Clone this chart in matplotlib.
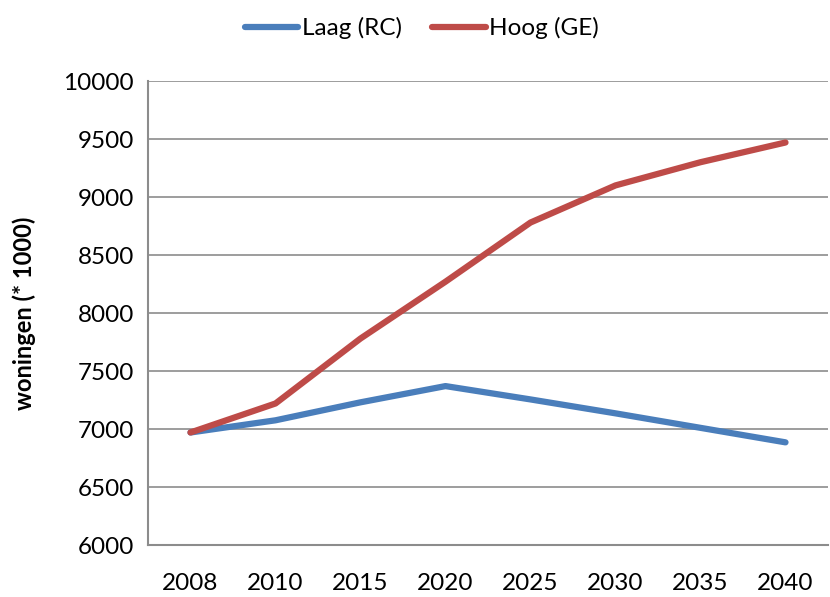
import matplotlib
matplotlib.use("Agg")
import matplotlib.pyplot as plt

years = ["2008", "2010", "2015", "2020", "2025", "2030", "2035", "2040"]
laag = [6970, 7075, 7230, 7370, 7255, 7135, 7010, 6885]
hoog = [6970, 7220, 7780, 8270, 8780, 9100, 9300, 9470]

plt.rcParams['font.family'] = ['Lato', 'DejaVu Sans']

fig = plt.figure(figsize=(8.3, 5.97), dpi=100)
ax = fig.add_axes([0.1783, 0.0871, 0.8193, 0.7772])

x = list(range(len(years)))
ax.plot(x, laag, color='#4a7ebb', lw=4.5, solid_capstyle='round', label='Laag (RC)', zorder=3)
ax.plot(x, hoog, color='#be4b48', lw=4.5, solid_capstyle='round', label='Hoog (GE)', zorder=3)

ax.set_xlim(-0.5, len(years) - 0.5)
ax.set_ylim(6000, 10000)
ax.set_yticks(range(6000, 10001, 500))
ax.set_xticks(x)
ax.set_xticklabels(years)
ax.tick_params(axis='both', length=0, labelsize=17.5, pad=10)
ax.tick_params(axis='x', pad=20)
ax.grid(axis='y', color='#8c8c8c', lw=1.2)
ax.set_axisbelow(True)
for s in ['top', 'right']:
    ax.spines[s].set_visible(False)
for s in ['left', 'bottom']:
    ax.spines[s].set_color('#8c8c8c')
    ax.spines[s].set_linewidth(1.5)

ax.set_ylabel('woningen (* 1000)', fontsize=17, fontweight='bold', labelpad=20)

ax.legend(loc='center', bbox_to_anchor=(0.403, 1.114), ncol=2, frameon=False,
          fontsize=17.5, handlelength=2.2, handletextpad=0.15, columnspacing=1.25)

fig.savefig('out.png', dpi=100)
